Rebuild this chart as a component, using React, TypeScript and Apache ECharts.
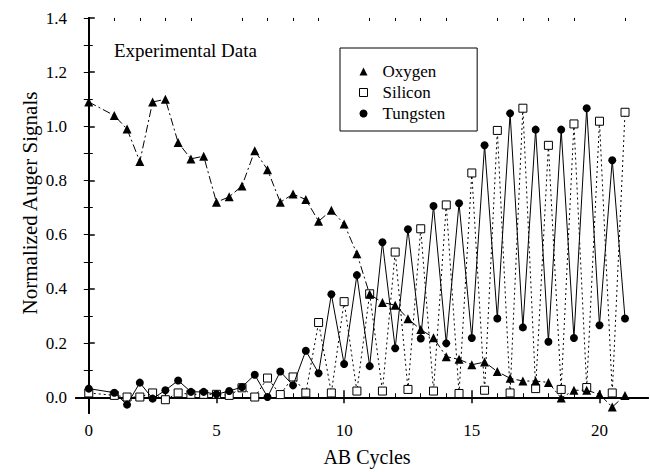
import React, { useEffect, useRef } from "react";
import * as echarts from "echarts";

const cycles = [0, 1, 1.5, 2, 2.5, 3, 3.5, 4, 4.5, 5, 5.5, 6, 6.5, 7, 7.5, 8, 8.5, 9, 9.5, 10, 10.5, 11, 11.5, 12, 12.5, 13, 13.5, 14, 14.5, 15, 15.5, 16, 16.5, 17, 17.5, 18, 18.5, 19, 19.5, 20, 20.5, 21];
const oxygen = [1.09, 1.04, 0.99, 0.87, 1.09, 1.1, 0.94, 0.88, 0.89, 0.72, 0.74, 0.78, 0.91, 0.84, 0.72, 0.75, 0.73, 0.65, 0.69, 0.64, 0.53, 0.38, 0.35, 0.34, 0.29, 0.25, 0.22, 0.15, 0.14, 0.12, 0.13, 0.095, 0.07, 0.06, 0.06, 0.055, -0.003, 0.026, 0.026, 0.011, -0.036, 0.007];
const silicon = [0.016, 0.007, 0.001, 0.001, 0.016, -0.009, 0.016, 0.011, 0.011, 0.011, 0.007, 0.035, 0.001, 0.071, 0.01, 0.075, 0.016, 0.276, 0.016, 0.353, 0.023, 0.382, 0.023, 0.536, 0.029, 0.622, 0.023, 0.71, 0.014, 0.828, 0.026, 0.985, 0.016, 1.067, 0.032, 0.93, 0.029, 1.009, 0.036, 1.019, 0.016, 1.052];
const tungsten = [0.032, 0.017, -0.027, 0.054, -0.005, 0.026, 0.062, 0.02, 0.02, 0.011, 0.023, 0.038, 0.083, 0.001, 0.095, 0.044, 0.172, 0.089, 0.38, 0.123, 0.451, 0.115, 0.572, 0.181, 0.62, 0.217, 0.706, 0.199, 0.716, 0.219, 0.93, 0.291, 1.048, 0.258, 0.988, 0.205, 0.988, 0.219, 1.067, 0.266, 0.875, 0.291];

const xMajorTicks = [0, 5, 10, 15, 20];
const xMinorTicks = [1, 2, 3, 4, 6, 7, 8, 9, 11, 12, 13, 14, 16, 17, 18, 19, 21];
const yMajorTicks = [0, 0.2, 0.4, 0.6, 0.8, 1.0, 1.2, 1.4];
const yMinorTicks = [0.1, 0.3, 0.5, 0.7, 0.9, 1.1, 1.3];
const yAllTicks = [0, 0.1, 0.2, 0.3, 0.4, 0.5, 0.6, 0.7, 0.8, 0.9, 1.0, 1.1, 1.2, 1.3, 1.4];

const FONT = "Liberation Serif, Times New Roman, DejaVu Serif, serif";
const X_MIN = -0.5;
const X_MAX = 21.9;
const Y_MIN = -0.058;
const Y_MAX = 1.4;

function pairs(ys: number[]) {
  return cycles.map((x, i) => [x, ys[i]]);
}

export default function App() {
  const ref = useRef<HTMLDivElement>(null);
  useEffect(() => {
    if (!ref.current) return;
    const chart = echarts.init(ref.current, null, { renderer: "svg" });
    const lineAxis = { show: true, lineStyle: { color: "#000", width: 2 } };
    const noLine = { show: false };
    const xBase = { type: "value", min: X_MIN, max: X_MAX, splitLine: { show: false } };
    const yBase = { type: "value", min: Y_MIN, max: Y_MAX, splitLine: { show: false } };
    chart.setOption({
      animation: false,
      backgroundColor: "#fff",
      textStyle: { fontFamily: FONT },
      grid: { left: 76, right: 2, top: 18, bottom: 54, containLabel: false },
      xAxis: [
        {
          ...xBase,
          position: "bottom",
          axisLine: lineAxis,
          axisTick: { show: true, inside: true, length: 7, customValues: xMajorTicks, lineStyle: { color: "#000", width: 1.5 } },
          axisLabel: { show: true, customValues: xMajorTicks, color: "#000", fontSize: 17, fontFamily: FONT, margin: 9 },
          name: "AB Cycles",
          nameLocation: "middle",
          nameGap: 34,
          nameTextStyle: { color: "#000", fontSize: 20, fontFamily: FONT, padding: [0, 0, 0, 10] },
        },
        {
          ...xBase,
          position: "bottom",
          axisLine: noLine,
          axisTick: { show: true, inside: true, length: 4, customValues: xMinorTicks, lineStyle: { color: "#000", width: 1 } },
          axisLabel: { show: false },
        },
        {
          ...xBase,
          position: "top",
          axisLine: lineAxis,
          axisTick: { show: true, inside: true, length: 6, customValues: xMajorTicks, lineStyle: { color: "#000", width: 1.5 } },
          axisLabel: { show: false },
        },
        {
          ...xBase,
          position: "top",
          axisLine: noLine,
          axisTick: { show: true, inside: true, length: 3, customValues: xMinorTicks, lineStyle: { color: "#000", width: 1 } },
          axisLabel: { show: false },
        },
      ],
      yAxis: [
        {
          ...yBase,
          position: "left",
          axisLine: lineAxis,
          axisTick: { show: true, inside: true, length: 6, customValues: yMajorTicks, lineStyle: { color: "#000", width: 1.5 } },
          axisLabel: {
            show: true,
            customValues: yMajorTicks,
            color: "#000",
            fontSize: 17,
            fontFamily: FONT,
            margin: 9,
            formatter: (v: number) => v.toFixed(1),
          },
        },
        {
          ...yBase,
          position: "left",
          axisLine: noLine,
          axisTick: { show: true, inside: true, length: 4, customValues: yMinorTicks, lineStyle: { color: "#000", width: 1 } },
          axisLabel: { show: false },
        },
        {
          ...yBase,
          position: "right",
          axisLine: lineAxis,
          axisTick: { show: true, inside: true, length: 5, customValues: yAllTicks, lineStyle: { color: "#000", width: 1 } },
          axisLabel: { show: false },
        },
      ],
      legend: {
        orient: "vertical",
        left: 340,
        top: 48,
        padding: [15, 32, 9, 19],
        itemGap: 4,
        itemWidth: 8,
        itemHeight: 8,
        borderColor: "#000",
        borderWidth: 1,
        borderRadius: 0,
        textStyle: { color: "#000", fontSize: 17, fontFamily: FONT, padding: [0, 0, 0, 10] },
        data: [
          { name: "Oxygen", icon: "triangle", itemStyle: { color: "#000", borderWidth: 0 } },
          { name: "Silicon", icon: "rect", itemStyle: { color: "#fff", borderColor: "#000", borderWidth: 1 } },
          { name: "Tungsten", icon: "circle", itemStyle: { color: "#000", borderWidth: 0 } },
        ],
      },
      graphic: [
        {
          type: "text",
          x: 114,
          y: 50,
          style: { text: "Experimental Data", fill: "#000", fontSize: 19, fontFamily: FONT, textAlign: "left", textVerticalAlign: "middle" },
        },
        {
          type: "text",
          x: 30,
          y: 203,
          rotation: Math.PI / 2,
          style: { text: "Normalized Auger Signals", fill: "#000", fontSize: 21, fontFamily: FONT, textAlign: "center", textVerticalAlign: "middle" },
        },
      ],
      series: [
        {
          name: "Silicon",
          type: "line",
          data: pairs(silicon),
          symbol: "rect",
          symbolSize: 8,
          itemStyle: { color: "#fff", borderColor: "#000", borderWidth: 1 },
          lineStyle: { color: "#000", width: 1, type: [2, 3] },
          z: 2,
        },
        {
          name: "Tungsten",
          type: "line",
          data: pairs(tungsten),
          symbol: "circle",
          symbolSize: 8,
          itemStyle: { color: "#000", borderWidth: 0 },
          lineStyle: { color: "#000", width: 1, type: "solid" },
          z: 3,
        },
        {
          name: "Oxygen",
          type: "line",
          data: pairs(oxygen),
          symbol: "triangle",
          symbolSize: 9,
          itemStyle: { color: "#000", borderWidth: 0 },
          lineStyle: { color: "#000", width: 1, type: [8, 3, 2, 3] },
          z: 4,
        },
      ],
    });
    return () => chart.dispose();
  }, []);
  return <div ref={ref} style={{ width: 650, height: 472, position: "absolute", left: 0, top: 0 }} />;
}
